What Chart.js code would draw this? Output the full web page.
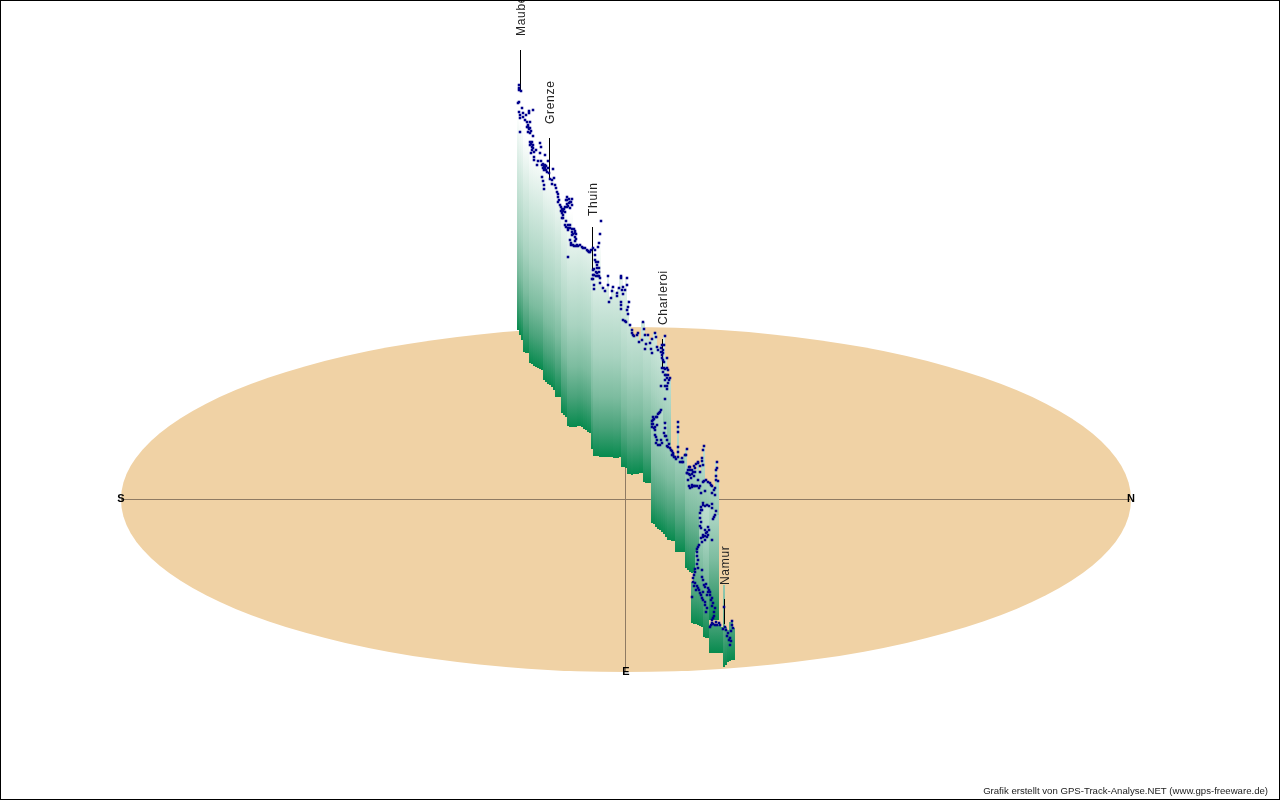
<!DOCTYPE html>
<html>
<head>
<meta charset="utf-8">
<title>GPS-Track-Analyse</title>
<script src="https://cdn.jsdelivr.net/npm/chart.js@4"></script>
<style>
html, body { margin: 0; padding: 0; background: #fff; }
#wrap { position: relative; width: 1280px; height: 800px; }
</style>
</head>
<body>
<div id="wrap"><canvas id="chart" width="1280" height="800"></canvas></div>
<script>
var columnX = [
  518,520,522,524,526,528,530,532,534,536,538,540,542,544,546,548,550,552,554,556,558,560,
  562,564,566,568,570,572,574,576,578,580,582,584,586,588,590,592,594,596,598,600,602,604,
  606,608,610,612,614,616,618,620,622,624,626,628,630,632,634,636,638,640,642,644,646,648,
  650,652,654,656,658,660,662,664,666,668,670,
  652,654,656,658,660,662,664,666,668,670,672,674,676,678,680,682,684,686,688,690,692,694,
  696,698,700,702,704,706,708,710,712,714,716,718,
  692,694,696,698,700,702,704,706,708,710,712,714,716,718,
  710,712,714,716,718,720,722,724,726,728,730,732,734
];
var columnTop = [
  104,112,108,113,115,111,122,110,130,150,161,143,164,155,168,161,172,170,178,188,197,205,
  209,207,197,197,200,199,233,240,245,245,247,248,250,251,252,250,248,255,243,221,285,290,
  288,276,298,287,290,293,288,276,276,290,278,300,325,330,336,337,333,340,322,322,335,335,
  340,339,333,333,347,345,350,336,357,375,378,
  427,418,416,414,412,410,423,423,443,444,450,453,457,422,458,458,455,449,467,467,470,468,
  470,463,472,458,446,480,482,483,486,488,462,481,
  582,572,552,547,513,503,503,505,505,504,504,510,512,515,
  625,624,625,625,625,626,627,585,627,630,622,621,628
];
var columnBase = [
  330,335,340,352,353,353,363,364,366,367,368,369,370,380,382,384,385,387,390,397,397,397,
  413,415,417,426,427,427,427,427,426,426,427,429,430,432,433,449,456,456,456,457,457,457,
  457,457,457,457,458,458,458,457,467,467,468,474,474,475,474,474,474,473,473,482,483,483,
  483,490,492,495,498,500,502,505,508,510,512,
  523,524,527,529,530,532,534,537,540,540,541,541,552,552,552,552,552,568,570,572,573,574,
  575,577,578,580,582,583,585,587,590,592,595,596,
  623,624,624,625,626,627,637,638,638,620,620,620,620,620,
  653,653,653,653,653,653,653,667,665,662,661,660,660
];

var trackX = [
  519,519,519,521,519,518,522,519,520,520,523,523,529,529,533,526,525,527,530,527,528,530,528,530,520,533,
  530,530,540,533,532,541,532,531,536,540,545,534,534,541,538,548,537,543,545,543,545,553,548,547,549,542,550,554,
  543,544,544,552,552,555,556,557,558,558,560,562,562,562,565,565,563,567,567,569,572,572,567,565,568,570,
  568,572,575,572,575,570,571,573,577,580,582,585,587,590,593,568,598,599,600,601,595,595,597,599,
  594,597,594,598,600,593,594,594,600,603,605,608,608,613,612,611,609,617,617,619,622,621,621,623,627,627,625,623,
  621,621,621,629,628,627,623,625,628,630,632,633,637,638,639,
  626,632,634,642,643,644,645,648,646,645,652,650,655,656,651,652,657,658,665,664,663,661,662,663,667,662,665,667,
  666,668,670,665,668,667,661,665,667,665,
  661,659,657,653,653,657,655,652,655,655,657,658,662,665,667,665,665,678,678,678,669,671,673,678,678,674,678,680,683,686,689,
  687,689,689,668,673,675,682,682,687,685,690,695,693,698,700,687,690,688,702,703,704,703,
  692,690,697,700,703,706,710,712,705,701,712,715,715,717,717,716,718,703,701,707,712,712,700,700,715,713,
  708,707,703,708,703,707,701,712,702,698,697,698,698,702,695,693,702,695,703,705,708,710,692,
  698,700,702,707,712,713,705,707,715,713,712,710,715,720,724,725,728,730,723,732,733,730,
  528,529,531,532,531,534,533,542,544,546,544,546,
  558,559,561,561,563,564,563,566,566,569,570,568,571,567,570,566,568,570,572,574,575,573,576,576,575,571,574,576,578,583,588,589,591,595,
  593,596,596,599,599,593,592,597,598,596,
  661,662,664,664,663,668,669,667,665,663,662,
  660,658,656,654,652,652,653,654,656,656,660,661,664,666,667,670,672,672,676,
  688,690,692,694,696,698,692,694,691,695,700,702,698,
  692,694,699,695,704,708,711,714,716,716,703,705,709,702,701,701,700,716,714,705,709,705,705,701,706,
  699,697,697,697,695,694,693,694,696,697,699,701,703,704,706,709,710,703,708,711,712,705,706,714,714,712,711,713,717,719,716,726,727,729,731,732,731
];
var trackY = [
  85,88,90,91,102,103,108,112,115,118,113,117,111,113,110,115,120,122,122,127,127,128,132,133,132,136,
  142,145,143,145,147,147,150,153,150,153,155,157,160,161,161,161,165,164,165,168,168,169,168,172,173,177,179,178,
  181,185,189,180,184,185,188,192,197,202,205,209,213,218,207,212,215,197,200,203,199,205,204,225,225,225,
  230,232,233,235,237,240,243,245,245,245,247,248,250,252,248,257,247,243,234,221,255,260,265,268,
  269,273,275,276,278,279,285,289,283,288,291,276,285,287,291,298,302,293,296,288,290,276,278,287,285,278,290,294,
  302,305,309,302,307,310,320,321,314,325,330,335,335,333,342,
  322,333,336,340,322,329,335,335,344,349,339,343,333,337,349,353,347,350,336,345,353,348,355,360,358,368,369,368,
  375,375,378,380,383,386,386,386,389,399,
  410,413,417,417,420,425,427,427,430,435,440,445,443,436,440,423,428,422,427,432,444,450,453,447,452,457,457,462,462,455,467,
  473,474,486,447,455,457,458,462,449,455,467,468,472,463,472,473,475,480,458,450,446,465,
  485,488,486,486,482,480,483,486,491,493,493,488,495,462,468,476,481,503,507,505,504,508,513,518,515,519,
  527,532,535,535,537,537,528,540,542,547,552,560,568,570,572,582,577,583,580,587,588,592,597,
  588,593,598,595,598,603,602,608,608,618,623,627,625,625,607,627,633,638,629,621,628,645,
  125,129,131,142,144,152,148,165,166,166,170,170,
  194,200,207,211,211,209,218,221,200,199,202,206,202,207,208,227,228,228,229,229,231,234,234,239,241,245,246,246,246,248,251,252,250,250,
  270,272,276,272,276,275,279,268,262,262,
  352,358,362,368,372,370,380,378,375,350,345,
  412,414,417,419,421,424,424,428,437,443,445,440,433,436,446,448,451,455,459,
  470,470,470,466,464,462,474,476,478,472,466,461,480,
  487,486,488,486,481,482,485,490,470,480,505,506,506,510,510,522,526,511,517,530,530,536,540,538,533,
  545,549,556,564,569,575,578,586,590,586,590,595,600,585,584,590,595,592,592,600,606,605,612,612,616,620,625,624,625,623,622,630,636,640,641,625,631
];

var placeNames = ["Maubeuge", "Grenze", "Thuin", "Charleroi", "Namur"];
var placeX = [522, 551, 594, 664, 726];
var placeLabelBottom = [36, 124, 216, 325, 585];
var leaderX = [520.5, 549.5, 592.5, 662.5, 724.5];
var leaderTop = [50, 138, 227, 339, 599];
var leaderBottom = [90, 178, 270, 367, 624];

var compassNames = ["S", "N", "E"];
var compassX = [121, 1131, 626];
var compassY = [499, 499, 672];
var axisSouthNorthX = [121, 1130];
var axisSouthNorthY = [499.5, 499.5];
var axisEastX = [625.5, 625.5];
var axisEastY = [468, 671];

var groundCenterX = 626, groundCenterY = 499.5, groundRadiusX = 505, groundRadiusY = 172.5;
var curtainFullHeight = 215; // height at which the curtain colour reaches white
var curtainStops = [0, 0.14, 0.28, 0.47, 0.74, 1];
var curtainColors = ['#078a4e', '#4aa37b', '#7cbc9f', '#a8d3c0', '#d2e9df', '#ffffff'];

var leaderPoints = [];
placeX.forEach(function (x, i) {
    leaderPoints.push({x: leaderX[i], y: leaderTop[i]});
    leaderPoints.push({x: leaderX[i], y: leaderBottom[i]});
    leaderPoints.push({x: leaderX[i], y: null});
});

function pairs(xs, ys) {
    return xs.map(function (x, i) { return {x: x, y: ys[i]}; });
}

function curtainColor(context) {
    var chart = context.chart;
    var base = columnBase[context.dataIndex];
    var y0 = chart.scales.y.getPixelForValue(base);
    var y1 = chart.scales.y.getPixelForValue(base - curtainFullHeight);
    // scales are not laid out yet on the first pass
    if (context.dataIndex === undefined || !isFinite(y0) || !isFinite(y1)) return curtainColors[0];
    var g = chart.ctx.createLinearGradient(0, y0, 0, y1);
    curtainStops.forEach(function (s, i) { g.addColorStop(s, curtainColors[i]); });
    return g;
}

// ground ellipse goes under all datasets
var groundPlugin = {
    id: 'ground',
    beforeDatasetsDraw: function (chart) {
        var c = chart.ctx, sx = chart.scales.x, sy = chart.scales.y;
        c.save();
        c.fillStyle = '#f0d2a5';
        c.beginPath();
        c.ellipse(sx.getPixelForValue(groundCenterX), sy.getPixelForValue(groundCenterY),
            groundRadiusX, groundRadiusY, 0, 0, Math.PI * 2);
        c.fill();
        c.restore();
    }
};

// place names, compass letters, credit line and the frame
var textPlugin = {
    id: 'texts',
    afterDatasetsDraw: function (chart) {
        var c = chart.ctx, sx = chart.scales.x, sy = chart.scales.y;
        c.save();
        c.fillStyle = '#222';
        c.font = '12px "Liberation Sans", Arial, sans-serif';
        c.letterSpacing = '0.7px';
        c.textAlign = 'left';
        c.textBaseline = 'middle';
        placeNames.forEach(function (name, i) {
            c.save();
            c.translate(sx.getPixelForValue(placeX[i]), sy.getPixelForValue(placeLabelBottom[i]));
            c.rotate(-Math.PI / 2);
            c.fillText(name, 0, 0);
            c.restore();
        });
        c.letterSpacing = '0px';
        c.fillStyle = '#000';
        c.font = 'bold 11px "Liberation Sans", Arial, sans-serif';
        c.textAlign = 'center';
        compassNames.forEach(function (name, i) {
            c.fillText(name, sx.getPixelForValue(compassX[i]), sy.getPixelForValue(compassY[i]));
        });
        c.fillStyle = '#222';
        c.font = '9.6px "Liberation Sans", Arial, sans-serif';
        c.textAlign = 'right';
        c.textBaseline = 'alphabetic';
        c.fillText('Grafik erstellt von GPS-Track-Analyse.NET (www.gps-freeware.de)', 1268, 794);
        c.strokeStyle = '#000';
        c.lineWidth = 1;
        c.strokeRect(0.5, 0.5, chart.width - 1, chart.height - 1);
        c.restore();
    }
};

new Chart(document.getElementById('chart').getContext('2d'), {
    type: 'scatter',
    data: {
        datasets: [
            {
                type: 'line',
                data: pairs(axisSouthNorthX, axisSouthNorthY),
                borderColor: '#8f7b63',
                borderWidth: 1,
                pointRadius: 0,
                order: 5
            },
            {
                type: 'line',
                data: pairs(axisEastX, axisEastY),
                borderColor: '#8f7b63',
                borderWidth: 1,
                pointRadius: 0,
                order: 5
            },
            {
                type: 'bar',
                data: columnX.map(function (x, i) { return {x: x, y: [columnBase[i], columnTop[i]]}; }),
                backgroundColor: curtainColor,
                barThickness: 2,
                barPercentage: 1,
                categoryPercentage: 1,
                grouped: false,
                inflateAmount: 0,
                borderWidth: 0,
                order: 4
            },
            {
                type: 'line',
                data: leaderPoints,
                borderColor: '#000',
                borderWidth: 1,
                pointRadius: 0,
                spanGaps: false,
                order: 3
            },
            {
                type: 'scatter',
                data: pairs(trackX, trackY),
                pointStyle: 'rect',
                pointRadius: 1.8,
                borderWidth: 0,
                backgroundColor: '#00008b',
                order: 2
            }
        ]
    },
    options: {
        responsive: false,
        animation: false,
        layout: {padding: 0, autoPadding: false},
        plugins: {legend: {display: false}, tooltip: {enabled: false}, title: {display: false}},
        scales: {
            x: {type: 'linear', display: false, min: 0, max: 1280, offset: false},
            y: {type: 'linear', display: false, min: 0, max: 800, reverse: true, offset: false}
        }
    },
    plugins: [groundPlugin, textPlugin]
});
</script>
</body>
</html>
